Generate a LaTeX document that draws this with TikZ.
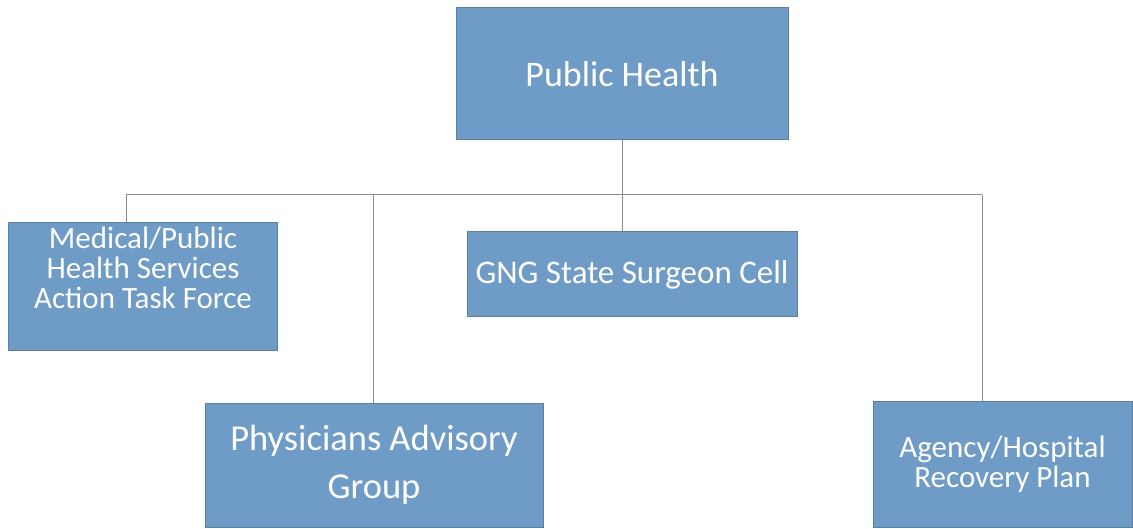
\documentclass[tikz,border=0pt]{standalone}
\usepackage{fontspec}
\setmainfont{Carlito}
\definecolor{boxfill}{HTML}{6E9CC6}
\definecolor{boxedge}{HTML}{5A7FA3}
\definecolor{linegray}{HTML}{8A8A8A}
\begin{document}
\begin{tikzpicture}[x=1pt,y=-1pt,
  orgbox/.style={draw=boxedge, line width=1pt, fill=boxfill, text=white, align=center, inner sep=0pt, minimum width=#1},
  boxtext/.style={text=white, align=center, inner sep=0pt},
  conn/.style={draw=linegray, line width=1pt}]
\useasboundingbox (0,0) rectangle (1133,529);
\fill[white] (0,0) rectangle (1133,529);
\node[orgbox=332pt, minimum height=132pt, font=\fontsize{36}{40}\selectfont] (ph) at (622,74) {Public Health};
\node[orgbox=269pt, minimum height=128pt] (med) at (142.5,287) {};
\node[boxtext, font=\fontsize{31}{30}\selectfont] (medt) at (143,268) {Medical/Public\\Health Services\\Action Task Force};
\node[orgbox=330pt, minimum height=85pt, font=\fontsize{33}{36}\selectfont] (gng) at (632,274.5) {GNG State Surgeon Cell};
\node[orgbox=338pt, minimum height=124pt, font=\fontsize{36.5}{48}\selectfont] (phys) at (374,465) {Physicians Advisory\\Group};
\node[orgbox=259pt, minimum height=126pt, font=\fontsize{31}{30}\selectfont] (ag) at (1002.5,464) {Agency/Hospital\\Recovery Plan};
\coordinate (b1) at (126,195);
\coordinate (b2) at (373,195);
\coordinate (b3) at (622,195);
\coordinate (b4) at (982,195);
\draw[conn] (b1) -- (b4);
\draw[conn] (ph.south) -- (ph.south |- gng.north);
\draw[conn] (b1) -- (b1 |- med.north);
\draw[conn] (b2) -- (b2 |- phys.north);
\draw[conn] (b4) -- (b4 |- ag.north);
\end{tikzpicture}
\end{document}
